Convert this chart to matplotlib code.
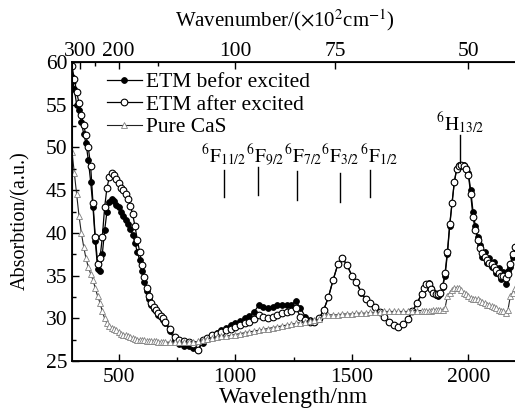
import numpy as np
import matplotlib
matplotlib.use("Agg")
import matplotlib.pyplot as plt

plt.rcParams['font.family'] = ['Liberation Serif', 'DejaVu Serif']
plt.rcParams['mathtext.fontset'] = 'stix'

# wavelength grid (nm): 10 nm steps at the edges, 20 nm in the middle
wl = np.concatenate([np.arange(300, 700, 10),
                     np.arange(700, 1800, 20),
                     np.arange(1800, 2201, 10)])

before = [
    # 300 - 690
    58.3, 56.8, 55.0, 54.4, 53.0, 51.6, 50.5, 48.5, 46.0, 43.0,
    39.0, 35.8, 35.5, 37.5, 40.3, 42.5, 43.6, 44.0, 43.7, 43.3,
    43.0, 42.5, 42.0, 41.5, 41.0, 40.5, 39.8, 38.8, 37.8, 36.8,
    35.5, 34.3, 33.2, 32.3, 31.6, 31.1, 30.8, 30.4, 30.1, 29.8,
    # 700 - 1780
    29.5, 28.5, 27.5, 27.0, 26.8, 26.7, 26.5, 26.3, 27.1, 27.6,
    28.0, 28.3, 28.6, 28.9, 29.2, 29.5, 29.7, 30.0, 30.3, 30.7,
    31.5, 31.3, 31.2, 31.3, 31.5, 31.5, 31.5, 31.6, 32.0, 31.2,
    30.2, 29.8, 29.6, 29.9, 31.0, 32.5, 34.5, 36.3, 37.0, 36.2,
    35.0, 34.2, 33.0, 32.2, 31.8, 31.3, 30.7, 30.1, 29.6, 29.2,
    29.0, 29.3, 29.9, 30.8, 31.8,
    # 1800 - 2200
    32.9, 33.6, 34.0, 34.1, 33.5, 33.1, 32.7, 32.6, 32.9, 33.7,
    35.0, 37.5, 40.8, 43.5, 46.0, 47.5, 47.9, 48.0, 47.9, 47.6,
    47.0, 45.0, 42.5, 40.8, 39.5, 38.6, 37.2, 37.8, 36.5, 37.0,
    36.0, 36.6, 35.3, 35.9, 34.6, 35.4, 34.0, 35.5, 36.0, 37.2,
    38.4,
]

after = [
    # 300 - 690
    59.5, 58.0, 56.5, 55.2, 53.8, 52.6, 51.4, 50.0, 47.8, 43.5,
    39.5, 36.4, 37.0, 39.5, 43.0, 45.3, 46.5, 47.0, 46.8, 46.3,
    45.8, 45.3, 45.0, 44.6, 44.0, 43.2, 42.2, 40.8, 39.2, 37.8,
    36.2, 34.8, 33.6, 32.6, 31.8, 31.3, 31.0, 30.6, 30.3, 30.0,
    # 700 - 1780
    29.6, 28.8, 27.8, 27.4, 27.3, 27.2, 27.0, 26.3, 27.4, 27.7,
    28.0, 28.2, 28.4, 28.6, 28.8, 29.0, 29.2, 29.4, 29.6, 29.9,
    30.4, 30.2, 30.0, 30.2, 30.4, 30.6, 30.7, 30.8, 31.2, 30.2,
    29.8, 29.6, 29.6, 30.0, 31.0, 32.5, 34.5, 36.3, 37.1, 36.2,
    35.0, 34.2, 33.1, 32.3, 31.8, 31.3, 30.7, 30.1, 29.6, 29.2,
    29.0, 29.3, 29.9, 30.8, 31.8,
    # 1800 - 2200
    32.8, 33.5, 34.0, 34.0, 33.4, 33.0, 32.8, 32.8, 33.0, 33.8,
    35.3, 37.8, 41.0, 43.5, 46.0, 47.5, 47.8, 47.9, 47.8, 47.5,
    46.8, 44.5, 41.8, 40.3, 39.2, 38.2, 37.6, 37.2, 36.8, 36.5,
    36.3, 36.0, 35.6, 35.3, 35.0, 35.0, 34.7, 35.2, 36.3, 37.5,
    38.4,
]

pure_cas = [
    # 300 - 690
    49.5, 47.0, 44.5, 42.0, 40.0, 38.4, 37.0, 36.0, 35.2, 34.5,
    33.5, 32.6, 31.8, 30.8, 30.0, 29.4, 29.1, 28.9, 28.7, 28.6,
    28.4, 28.2, 28.1, 28.0, 27.9, 27.8, 27.7, 27.6, 27.5, 27.5,
    27.4, 27.4, 27.3, 27.3, 27.3, 27.3, 27.3, 27.2, 27.2, 27.2,
    # 700 - 1780
    27.2, 27.2, 27.2, 27.2, 27.2, 27.2, 27.2, 27.3, 27.5, 27.6,
    27.7, 27.8, 27.9, 27.9, 28.0, 28.1, 28.2, 28.3, 28.4, 28.5,
    28.6, 28.7, 28.8, 28.9, 29.0, 29.1, 29.2, 29.3, 29.4, 29.5,
    29.6, 29.7, 29.8, 29.9, 30.4, 30.4, 30.4, 30.4, 30.5, 30.5,
    30.5, 30.6, 30.6, 30.6, 30.7, 30.7, 30.7, 30.8, 30.8, 30.8,
    30.8, 30.8, 30.8, 30.9, 30.9,
    # 1800 - 2200
    30.9, 30.9, 30.9, 30.9, 30.9, 31.0, 31.0, 31.0, 31.0, 31.0,
    31.2, 32.6, 33.0, 33.3, 33.5, 33.6, 33.5, 33.3, 33.0, 32.8,
    32.6, 32.4, 32.3, 32.2, 32.2, 32.0, 31.9, 31.8, 31.6, 31.5,
    31.4, 31.3, 31.2, 31.0, 30.9, 30.8, 30.6, 31.0, 32.6, 33.0,
    33.5,
]

# energy level marks
levels = [r'$^{6}\mathrm{F}_{11/2}$', r'$^{6}\mathrm{F}_{9/2}$', r'$^{6}\mathrm{F}_{7/2}$',
          r'$^{6}\mathrm{F}_{3/2}$', r'$^{6}\mathrm{F}_{1/2}$', r'$^{6}\mathrm{H}_{13/2}$']
level_wl = [952, 1099, 1265, 1451, 1580, 1964]
level_text_wl = [952, 1128, 1291, 1450, 1617, 1964]
level_lo = [44.2, 44.4, 43.8, 43.6, 44.2, 48.2]
level_hi = [47.4, 47.7, 47.2, 47.0, 47.4, 51.4]
level_text_y = [47.6, 47.6, 47.6, 47.6, 47.6, 51.3]

# top axis: wavenumber (x10^2 cm^-1)
top_labels = ['300', '200', '100', '75', '50']
top_pos = [333, 500, 1000, 1428, 2000]
top_minor = [400, 667]

fig = plt.figure(figsize=(5.15, 4.11), dpi=100)
ax = fig.add_axes([72 / 515, 50 / 411, 443 / 515, 299 / 411])

ax.plot(wl, before, '-', color='black', lw=0.9, marker='o', ms=4.2,
        mfc='black', mec='black', mew=0.6, label='ETM befor excited')
ax.plot(wl, after, '-', color='black', lw=0.9, marker='o', ms=4.8,
        mfc='white', mec='black', mew=0.8, label='ETM after excited')
ax.plot(wl, pure_cas, '-', color='#222222', lw=0.8, marker='^', ms=4.2,
        mfc='white', mec='#808080', mew=0.6, label='Pure CaS')

for lab, xl, xt, lo, hi, yt in zip(levels, level_wl, level_text_wl,
                                   level_lo, level_hi, level_text_y):
    ax.plot([xl, xl], [lo, hi], color='black', lw=1.0)
    ax.text(xt, yt, lab, ha='center', va='bottom', fontsize=14)

ax.set_xlim(300, 2200)
ax.set_ylim(25, 60)
ax.set_xticks([500, 1000, 1500, 2000])
ax.set_xticks([750, 1250, 1750], minor=True)
ax.set_yticks(np.arange(25, 61, 5))
ax.set_yticks(np.arange(27.5, 60, 5), minor=True)
ax.tick_params(which='both', direction='in', labelsize=15.5, width=1.0)
ax.tick_params(which='major', length=5)
ax.tick_params(which='minor', length=3)
ax.tick_params(axis='x', pad=5)
ax.set_xlabel('Wavelength/nm', fontsize=17, labelpad=0)
ax.set_ylabel('Absorbtion/(a.u.)', fontsize=14.5)
ax.yaxis.set_label_coords(-0.095, 0.47)
ax.spines['right'].set_visible(False)
for s in ['left', 'bottom', 'top']:
    ax.spines[s].set_linewidth(1.3)

ax2 = ax.twiny()
ax2.set_xlim(ax.get_xlim())
ax2.set_xticks(top_pos)
ax2.set_xticklabels(top_labels)
ax2.set_xticks(top_minor, minor=True)
ax2.tick_params(which='both', direction='in', labelsize=15.5, width=1.0, pad=1)
ax2.tick_params(which='major', length=5)
ax2.tick_params(which='minor', length=3)
ax2.spines['right'].set_visible(False)
ax2.set_xlabel(r'Wavenumber/($\times$10$^{2}$cm$^{-1}$)', fontsize=15, labelpad=6)
ax2.xaxis.set_label_coords(0.48, 1.12)

ax.legend(loc='upper left', bbox_to_anchor=(0.06, 0.995), frameon=False,
          fontsize=15.5, handlelength=1.6, handletextpad=0.2,
          labelspacing=0.12, borderaxespad=0)

fig.savefig('out.png', dpi=100)
